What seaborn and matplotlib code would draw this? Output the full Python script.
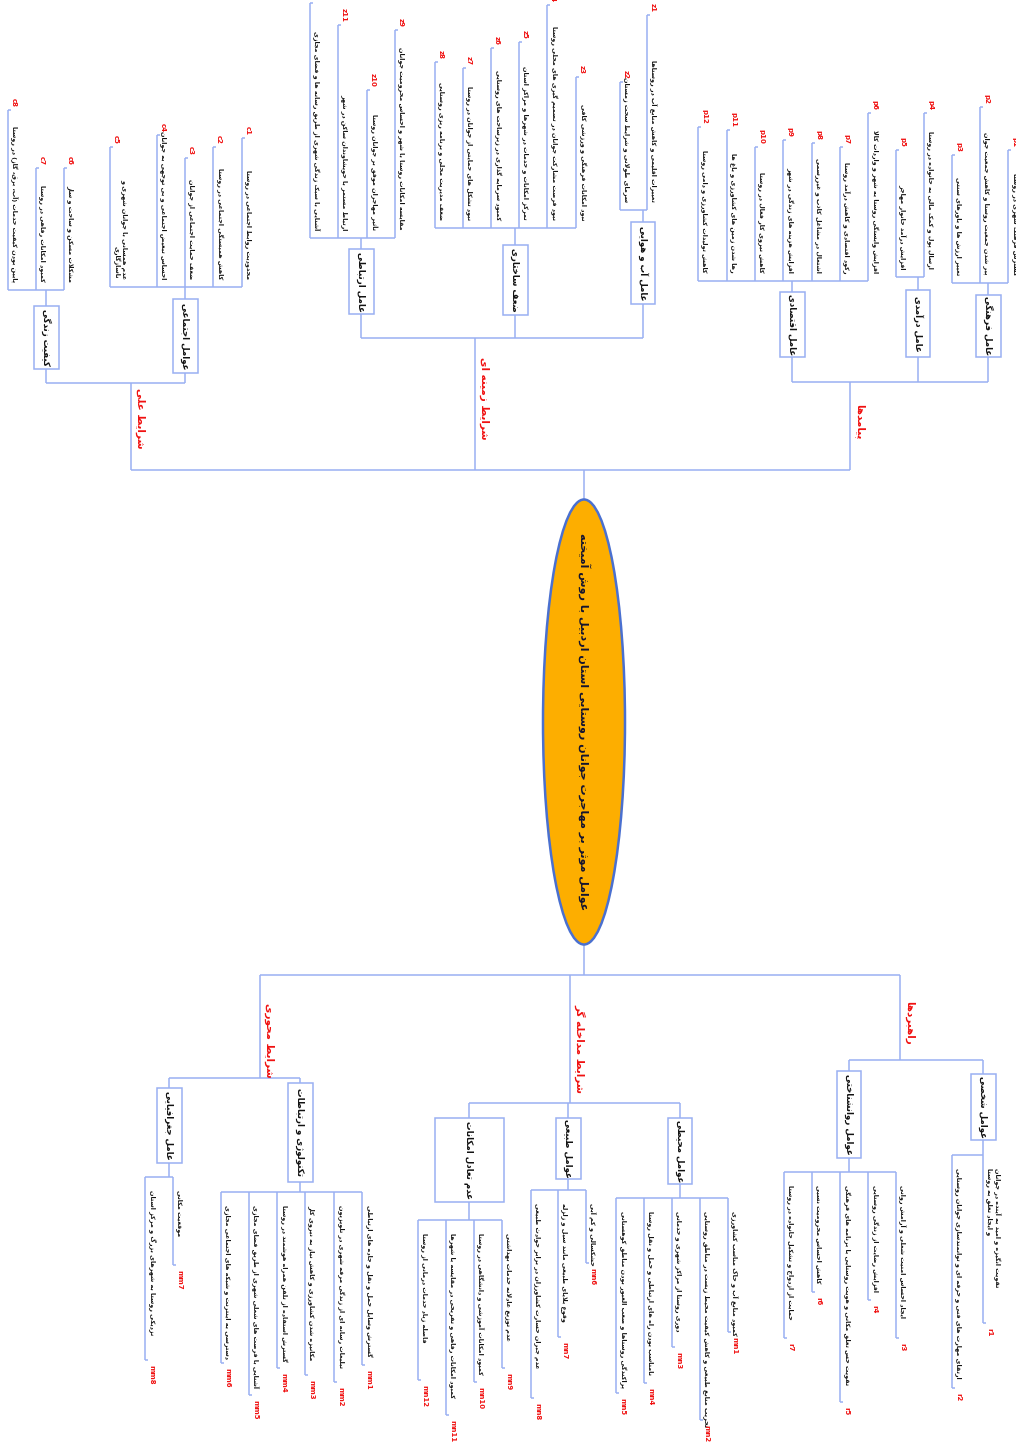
import re
import matplotlib
matplotlib.use("Agg")
import matplotlib.pyplot as plt
from matplotlib.patches import Ellipse, Rectangle
import seaborn as sns

# ---------------- DATA ----------------
root_title = "عوامل موثر بر مهاجرت جوانان روستایی استان اردبیل با روش آمیخته"

top_branches = ["شرایط علی", "شرایط زمینه ای", "پیامدها"]
bottom_branches = ["شرایط محوری", "شرایط مداخله گر", "راهبردها"]

causal_groups = ["کیفیت زندگی", "عوامل اجتماعی"]
causal_codes = [["c8", "c7", "c6"], ["c5", "c4", "c3", "c2", "c1"]]
causal_texts = [
    ["پایین بودن کیفیت خدمات (آب، برق، گاز) در روستا",
     "کمبود امکانات رفاهی در روستا",
     "مشکلات مسکن و ساخت و ساز"],
    ["عدم همسانی با جوانان شهری و\nناسازگاری",
     "احساس تبعیض اجتماعی و بی توجهی به جوانان",
     "ضعف حمایت اجتماعی از جوانان",
     "کاهش همبستگی اجتماعی در روستا",
     "محدودیت روابط اجتماعی در روستا"],
]

context_groups = ["عامل ارتباطی", "ضعف ساختاری", "عامل آب و هوایی"]
context_codes = [["z12", "z11", "z10", "z9"], ["z8", "z7", "z6", "z5", "z4", "z3"], ["z2", "z1"]]
context_texts = [
    ["آشنایی با سبک زندگی شهری از طریق رسانه ها و فضای مجازی",
     "ارتباط مستمر با خویشاوندان ساکن در شهر",
     "تأثیر مهاجران موفق بر جوانان روستا",
     "مقایسه امکانات روستا با شهر و احساس محرومیت جوانان"],
    ["ضعف مدیریت محلی و برنامه ریزی روستایی",
     "نبود تشکل های حمایتی از جوانان در روستا",
     "کمبود سرمایه گذاری در زیرساخت های روستایی",
     "تمرکز امکانات و خدمات در شهرها و مراکز استان",
     "نبود فرصت مشارکت جوانان در تصمیم گیری های محلی روستا",
     "نبود امکانات فرهنگی و ورزشی کافی"],
    ["سرمای طولانی و شرایط سخت زمستان",
     "تغییرات اقلیمی و کاهش منابع آب در روستاها"],
]

conseq_groups = ["عامل اقتصادی", "عامل درآمدی", "عامل فرهنگی"]
conseq_codes = [["p12", "p11", "p10", "p9", "p8", "p7", "p6"], ["p5", "p4"], ["p3", "p2", "p1"]]
conseq_texts = [
    ["کاهش تولیدات کشاورزی و دامی روستا",
     "رها شدن زمین های کشاورزی و باغ ها",
     "کاهش نیروی کار فعال در روستا",
     "افزایش هزینه های زندگی در شهر",
     "اشتغال در مشاغل کاذب و غیررسمی",
     "رکود اقتصادی و کاهش درآمد روستا",
     "افزایش وابستگی روستا به شهر و واردات کالا"],
    ["افزایش درآمد خانوار مهاجر",
     "ارسال پول و کمک مالی به خانواده در روستا"],
    ["تغییر ارزش ها و باورهای سنتی",
     "پیر شدن جمعیت روستا و کاهش جمعیت جوان",
     "گسترش فرهنگ شهری در روستا"],
]

axial_groups = ["عامل جغرافیایی", "تکنولوژی و ارتباطات"]
axial_codes = [["mm8", "mm7"], ["mm6", "mm5", "mm4", "mm3", "mm2", "mm1"]]
axial_texts = [
    ["نزدیکی روستا به شهرهای بزرگ و مرکز استان",
     "موقعیت مکانی"],
    ["دسترسی به اینترنت و شبکه های اجتماعی مجازی",
     "آشنایی با فرصت های شغلی شهری از طریق فضای مجازی",
     "گسترش استفاده از تلفن همراه هوشمند در روستا",
     "مکانیزه شدن کشاورزی و کاهش نیاز به نیروی کار",
     "تبلیغات رسانه ای از زندگی مرفه شهری در تلویزیون",
     "گسترش وسایل حمل و نقل و جاده های ارتباطی"],
]

interv_groups = ["عدم تعادل امکانات", "عوامل طبیعی", "عوامل محیطی"]
interv_codes = [["mn12", "mn11", "mn10", "mn9"], ["mn8", "mn7", "mn6"], ["mn5", "mn4", "mn3", "mn2", "mn1"]]
interv_texts = [
    ["فاصله زیاد خدمات درمانی از روستا",
     "کمبود امکانات رفاهی و تفریحی در مقایسه با شهرها",
     "کمبود امکانات آموزشی و دانشگاهی در روستا",
     "عدم توزیع عادلانه خدمات بهداشتی"],
    ["عدم جبران خسارت کشاورزان در برابر حوادث طبیعی",
     "وقوع بلایای طبیعی مانند سیل و زلزله",
     "خشکسالی و کم آبی"],
    ["پراکندگی روستاها و صعب العبور بودن مناطق کوهستانی",
     "نامناسب بودن راه های ارتباطی و حمل و نقل روستا",
     "دوری روستا از مراکز شهری و خدماتی",
     "تخریب منابع طبیعی و کاهش کیفیت محیط زیست در مناطق روستایی",
     "کمبود منابع آب و خاک مناسب کشاورزی"],
]

strat_groups = ["عوامل روانشناختی", "عوامل شخصی"]
strat_codes = [["r7", "r6", "r5", "r4", "r3"], ["r2", "r1"]]
strat_texts = [
    ["حمایت از ازدواج و تشکیل خانواده در روستا",
     "کاهش احساس محرومیت نسبی",
     "تقویت حس تعلق مکانی و هویت روستایی با برنامه های فرهنگی",
     "افزایش رضایت از زندگی روستایی",
     "ایجاد احساس امنیت شغلی و آرامش روانی"],
    ["ارتقای مهارت های فنی و حرفه ای و توانمندسازی جوانان روستایی",
     "تقویت انگیزه و امید به آینده در جوانان\nو ایجاد تعلق به روستا"],
]

# ---------------- LAYOUT (pixel coordinates, y downward) ----------------
ellipse_c = (584, 722)
ellipse_wh = (82, 445)
top_bar_y, bottom_bar_y = 470, 975

top_layout = [
    dict(x=131, bar=383, ly=418, groups=[
        dict(cx=46, box=(306, 369), w=25, leaf_bar=290, xs=[8, 36, 64], tips=[110, 168, 168]),
        dict(cx=185, box=(299, 373), w=25, leaf_bar=287, xs=[110, 157, 185, 213, 242], tips=[147, 135, 158, 147, 138]),
    ]),
    dict(x=475, bar=338, ly=398, groups=[
        dict(cx=361, box=(249, 314), w=25, leaf_bar=238, xs=[310, 338, 367, 395], tips=[3, 25, 90, 30]),
        dict(cx=515, box=(245, 315), w=25, leaf_bar=228, xs=[435, 463, 491, 519, 547, 576], tips=[62, 68, 48, 42, 5, 77]),
        dict(cx=643, box=(222, 304), w=24, leaf_bar=210, xs=[620, 647], tips=[82, 15]),
    ]),
    dict(x=850, bar=382, ly=422, groups=[
        dict(cx=792, box=(292, 357), w=25, leaf_bar=281, xs=[698, 727, 755, 783, 812, 840, 868], tips=[127, 130, 147, 140, 143, 147, 113]),
        dict(cx=918, box=(290, 357), w=24, leaf_bar=277, xs=[896, 924], tips=[150, 113]),
        dict(cx=988, box=(295, 357), w=25, leaf_bar=283, xs=[952, 980, 1008], tips=[155, 107, 150]),
    ]),
]

bottom_layout = [
    dict(x=260, bar=1078, ly=1040, groups=[
        dict(cx=169, box=(1088, 1163), w=25, leaf_bar=1177, xs=[145, 173], tips=[1360, 1265]),
        dict(cx=300, box=(1083, 1182), w=25, leaf_bar=1192, xs=[221, 249, 277, 305, 334, 362], tips=[1363, 1395, 1368, 1375, 1382, 1365]),
    ]),
    dict(x=570, bar=1103, ly=1048, groups=[
        dict(cx=469, box=(1118, 1202), w=69, leaf_bar=1220, xs=[418, 446, 474, 502], tips=[1380, 1415, 1382, 1368]),
        dict(cx=568, box=(1118, 1179), w=25, leaf_bar=1190, xs=[531, 558, 586], tips=[1398, 1337, 1263]),
        dict(cx=680, box=(1118, 1184), w=24, leaf_bar=1198, xs=[616, 644, 672, 700, 728], tips=[1393, 1383, 1347, 1420, 1332]),
    ]),
    dict(x=900, bar=1060, ly=1023, groups=[
        dict(cx=849, box=(1071, 1158), w=24, leaf_bar=1172, xs=[784, 812, 840, 868, 896], tips=[1338, 1292, 1402, 1300, 1338]),
        dict(cx=983, box=(1074, 1140), w=25, leaf_bar=1155, xs=[952, 983], tips=[1388, 1323]),
    ]),
]

# ---------------- Persian shaping (no external libs) ----------------
_F = {}
def _dual(c, base):
    _F[c] = tuple(chr(base + k) for k in range(4))
def _right(c, base):
    _F[c] = (chr(base), chr(base + 1))

for c, b in [("ب", 0xFE8F), ("ت", 0xFE95), ("ث", 0xFE99), ("ج", 0xFE9D), ("ح", 0xFEA1),
             ("خ", 0xFEA5), ("س", 0xFEB1), ("ش", 0xFEB5), ("ص", 0xFEB9), ("ض", 0xFEBD),
             ("ط", 0xFEC1), ("ظ", 0xFEC5), ("ع", 0xFEC9), ("غ", 0xFECD), ("ف", 0xFED1),
             ("ق", 0xFED5), ("ك", 0xFED9), ("ل", 0xFEDD), ("م", 0xFEE1), ("ن", 0xFEE5),
             ("ه", 0xFEE9), ("ي", 0xFEF1), ("ئ", 0xFE89), ("پ", 0xFB56), ("چ", 0xFB7A),
             ("ک", 0xFB8E), ("گ", 0xFB92), ("ی", 0xFBFC)]:
    _dual(c, b)
for c, b in [("ا", 0xFE8D), ("آ", 0xFE81), ("أ", 0xFE83), ("إ", 0xFE87), ("د", 0xFEA9),
             ("ذ", 0xFEAB), ("ر", 0xFEAD), ("ز", 0xFEAF), ("ژ", 0xFB8A), ("و", 0xFEED),
             ("ؤ", 0xFE85), ("ة", 0xFE93)]:
    _right(c, b)
_LA = {"ا": (0xFEFB, 0xFEFC), "آ": (0xFEF5, 0xFEF6), "أ": (0xFEF7, 0xFEF8), "إ": (0xFEF9, 0xFEFA)}
_MIR = {"(": ")", ")": "(", "[": "]", "]": "[", "«": "»", "»": "«"}


def _shape(s):
    res, i, n = [], 0, len(s)
    while i < n:
        c = s[i]
        if c not in _F:
            if c != "\u200c":
                res.append(c)
            i += 1
            continue
        prev = s[i - 1] if i > 0 else None
        jp = prev is not None and prev in _F and len(_F[prev]) == 4
        if c == "ل" and i + 1 < n and s[i + 1] in _LA:
            iso, fin = _LA[s[i + 1]]
            res.append(chr(fin if jp else iso))
            i += 2
            continue
        nxt = s[i + 1] if i + 1 < n else None
        jn = len(_F[c]) == 4 and nxt is not None and nxt in _F
        f = _F[c]
        res.append(f[3] if (jp and jn) else f[1] if jp else f[2] if jn else f[0])
        i += 1
    return "".join(res)


def _visual(s):
    toks = re.findall(r"[A-Za-z0-9][A-Za-z0-9.\-/]*|[^A-Za-z0-9]+", s)
    out = []
    for t in reversed(toks):
        if re.match(r"[A-Za-z0-9]", t):
            out.append(t)
        else:
            out.append("".join(_MIR.get(ch, ch) for ch in reversed(t)))
    return "".join(out)


def fa(s):
    return "\n".join(_visual(_shape(line)) for line in s.split("\n"))


# ---------------- DRAW ----------------
sns.set_theme(style="white")
plt.rcParams["font.family"] = ["DejaVu Sans"]

LINE = "#9AB0F2"
RED = "#F01010"
LW = 1.1
LEAF_FS = 4.6

fig = plt.figure(figsize=(10.16, 14.47), dpi=100)
ax = fig.add_axes([0, 0, 1, 1])
ax.set_xlim(0, 1016)
ax.set_ylim(1447, 0)
ax.axis("off")


def seg(x0, y0, x1, y1):
    ax.plot([x0, x1], [y0, y1], color=LINE, lw=LW, solid_capstyle="butt", zorder=1)


def rtext(x, y, s, **kw):
    ax.text(x, y, fa(s), rotation=-90, rotation_mode="default", zorder=4, **kw)


def draw_side(layout, branch_names, groups_names, groups_codes, groups_texts, top):
    bar_main = top_bar_y if top else bottom_bar_y
    for b, bname, gnames, gcodes, gtexts in zip(layout, branch_names, groups_names, groups_codes, groups_texts):
        bx = b["x"]
        seg(bx, bar_main, bx, b["bar"])
        cxs = [g["cx"] for g in b["groups"]]
        seg(min(cxs + [bx]), b["bar"], max(cxs + [bx]), b["bar"])
        rtext(bx + 4, b["ly"], bname, color=RED, fontsize=7.5, fontweight="bold",
              ha="left", va="center")
        for g, gname, codes, texts in zip(b["groups"], gnames, gcodes, gtexts):
            cx, (y0, y1), w = g["cx"], g["box"], g["w"]
            near, far = (y1, y0) if top else (y0, y1)
            seg(cx, b["bar"], cx, near)
            ax.add_patch(Rectangle((cx - w / 2, y0), w, y1 - y0, facecolor="white",
                                   edgecolor=LINE, lw=LW, zorder=2))
            rtext(cx, (y0 + y1) / 2, gname, color="#111111", fontsize=6.2,
                  fontweight="bold", ha="center", va="center")
            lb = g["leaf_bar"]
            seg(cx, far, cx, lb)
            seg(min(g["xs"] + [cx]), lb, max(g["xs"] + [cx]), lb)
            for lx, tip, code, txt in zip(g["xs"], g["tips"], codes, texts):
                seg(lx, lb, lx, tip)
                seg(lx, tip, lx + 2.5, tip)
                if top:
                    rtext(lx + 3, lb - 8, txt, color="#111111", fontsize=LEAF_FS,
                          fontweight="bold", ha="left", va="bottom", multialignment="right")
                    ax.text(lx + 3, tip - 3, code, rotation=-90, color=RED, fontsize=5,
                            fontweight="bold", ha="left", va="bottom", zorder=4)
                else:
                    rtext(lx + 3, lb + 13, txt, color="#111111", fontsize=LEAF_FS,
                          fontweight="bold", ha="left", va="top", multialignment="left")
                    ax.text(lx + 3, tip + 5, code, rotation=-90, color=RED, fontsize=5,
                            fontweight="bold", ha="left", va="top", zorder=4)


# trunk + main bars
seg(ellipse_c[0], ellipse_c[1] - ellipse_wh[1] / 2, ellipse_c[0], top_bar_y)
seg(ellipse_c[0], ellipse_c[1] + ellipse_wh[1] / 2, ellipse_c[0], bottom_bar_y)
seg(min(b["x"] for b in top_layout), top_bar_y, max(b["x"] for b in top_layout), top_bar_y)
seg(min(b["x"] for b in bottom_layout), bottom_bar_y, max(b["x"] for b in bottom_layout), bottom_bar_y)

draw_side(top_layout, top_branches,
          [causal_groups, context_groups, conseq_groups],
          [causal_codes, context_codes, conseq_codes],
          [causal_texts, context_texts, conseq_texts], top=True)
draw_side(bottom_layout, bottom_branches,
          [axial_groups, interv_groups, strat_groups],
          [axial_codes, interv_codes, strat_codes],
          [axial_texts, interv_texts, strat_texts], top=False)

ax.add_patch(Ellipse(ellipse_c, ellipse_wh[0], ellipse_wh[1], facecolor="#FDAE00",
                     edgecolor="#4A70D0", lw=1.8, zorder=3))
rtext(ellipse_c[0], ellipse_c[1], root_title, color="#141430", fontsize=8,
      fontweight="bold", ha="center", va="center")

fig.savefig("out.png", dpi=100, facecolor="white")
